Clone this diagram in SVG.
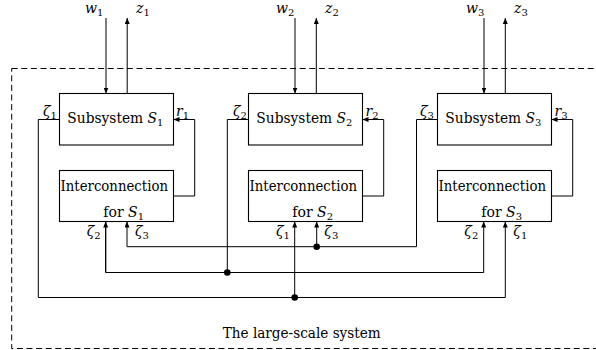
<svg xmlns="http://www.w3.org/2000/svg" width="596" height="350" viewBox="0 0 596 350">
<style>
.box{fill:#fff;stroke:#000;stroke-width:1.1}
.ln{fill:none;stroke:#000;stroke-width:1}
.arr{marker-end:url(#ah)}
.t{font-family:'DejaVu Serif','Liberation Serif',serif;font-size:14px;fill:#000}
.m{font-family:'DejaVu Serif','Liberation Serif',serif;font-size:14px;font-style:italic;fill:#000}
.i{font-style:italic}
.sub{font-style:normal;font-size:10px}
.dot{fill:#000}
</style>
<defs>
<marker id="ah" markerUnits="userSpaceOnUse" viewBox="0 0 6 5" markerWidth="6" markerHeight="5" refX="6" refY="2.5" orient="auto">
<path d="M0,0 L6,2.5 L0,5 Z" fill="#000"/>
</marker>
</defs>
<rect x="11.7" y="68.5" width="600" height="280" fill="none" stroke="#000" stroke-width="1" stroke-dasharray="6 3.6"/>
<text class="t" x="222.7" y="337.5" textLength="158" lengthAdjust="spacingAndGlyphs">The large-scale system</text>

<g id="connectors">
<path class="ln arr" d="M106,18 V93.5"/>
<path class="ln arr" d="M127.2,93.5 V18"/>
<path class="ln arr" d="M295,18 V93.5"/>
<path class="ln arr" d="M316.3,93.5 V18"/>
<path class="ln arr" d="M484,18 V93.5"/>
<path class="ln arr" d="M505.3,93.5 V18"/>
<path class="ln arr" d="M173.5,196 H194.7 V119.5 H173.5"/>
<path class="ln arr" d="M362.5,196 H383.7 V119.5 H362.5"/>
<path class="ln arr" d="M551.5,196 H572.7 V119.5 H551.5"/>
<path class="ln arr" d="M59.5,119.5 H38.3 V297.5 H505.3 V221.5"/>
<path class="ln arr" d="M294.7,297.5 V221.5"/>
<circle class="dot" cx="294.7" cy="297.5" r="3.3"/>
<path class="ln" d="M248.5,119.5 H227.3 V272.5"/>
<path class="ln arr" d="M105.7,221.5 V272.5 H483.7 V221.5"/>
<path class="ln arr" d="M105.7,272.5 V221.5"/>
<circle class="dot" cx="227.3" cy="272.5" r="3.3"/>
<path class="ln arr" d="M437.5,119.5 H416.5 V246.7 H127 V221.5"/>
<path class="ln arr" d="M316.7,246.7 V221.5"/>
<circle class="dot" cx="316.7" cy="246.7" r="3.3"/>
</g>

<g id="labels">
<text class="m" x="85" y="13.3">w<tspan class="sub" dy="3">1</tspan></text>
<text class="m" x="136" y="13.3">z<tspan class="sub" dy="3">1</tspan></text>
<text class="m" x="276" y="13.3">w<tspan class="sub" dy="3">2</tspan></text>
<text class="m" x="325" y="13.3">z<tspan class="sub" dy="3">2</tspan></text>
<text class="m" x="466" y="13.3">w<tspan class="sub" dy="3">3</tspan></text>
<text class="m" x="514" y="13.3">z<tspan class="sub" dy="3">3</tspan></text>
<text class="m" x="43" y="116">ζ<tspan class="sub" dy="3">1</tspan></text>
<text class="m" x="176" y="116">r<tspan class="sub" dy="3">1</tspan></text>
<text class="m" x="233" y="116">ζ<tspan class="sub" dy="3">2</tspan></text>
<text class="m" x="365.5" y="116">r<tspan class="sub" dy="3">2</tspan></text>
<text class="m" x="420" y="116">ζ<tspan class="sub" dy="3">3</tspan></text>
<text class="m" x="554.5" y="116">r<tspan class="sub" dy="3">3</tspan></text>
<text class="m" x="86.7" y="236">ζ<tspan class="sub" dy="3">2</tspan></text>
<text class="m" x="135" y="236">ζ<tspan class="sub" dy="3">3</tspan></text>
<text class="m" x="276" y="236">ζ<tspan class="sub" dy="3">1</tspan></text>
<text class="m" x="324.3" y="236">ζ<tspan class="sub" dy="3">3</tspan></text>
<text class="m" x="464.3" y="236">ζ<tspan class="sub" dy="3">2</tspan></text>
<text class="m" x="513.3" y="236">ζ<tspan class="sub" dy="3">1</tspan></text>
</g>

<g id="subsystem1">
<rect class="box" x="59.5" y="93.5" width="114" height="51.5"/>
<text class="t" x="67.3" y="123.3" textLength="96" lengthAdjust="spacingAndGlyphs">Subsystem <tspan class="i">S</tspan><tspan class="sub" dy="3">1</tspan></text>
</g>
<g id="interconnection1">
<rect class="box" x="59.5" y="170.5" width="114" height="51"/>
<text class="t" x="60.5" y="190.7" textLength="107.5" lengthAdjust="spacingAndGlyphs">Interconnection</text>
<text class="t" x="103.3" y="216.5">for <tspan class="i">S</tspan><tspan class="sub" dy="3">1</tspan></text>
</g>
<g id="subsystem2">
<rect class="box" x="248.5" y="93.5" width="114" height="51.5"/>
<text class="t" x="256.3" y="123.3" textLength="96" lengthAdjust="spacingAndGlyphs">Subsystem <tspan class="i">S</tspan><tspan class="sub" dy="3">2</tspan></text>
</g>
<g id="interconnection2">
<rect class="box" x="248.5" y="170.5" width="114" height="51"/>
<text class="t" x="249.5" y="190.7" textLength="107.5" lengthAdjust="spacingAndGlyphs">Interconnection</text>
<text class="t" x="292.3" y="216.5">for <tspan class="i">S</tspan><tspan class="sub" dy="3">2</tspan></text>
</g>
<g id="subsystem3">
<rect class="box" x="437.5" y="93.5" width="114" height="51.5"/>
<text class="t" x="445.3" y="123.3" textLength="96" lengthAdjust="spacingAndGlyphs">Subsystem <tspan class="i">S</tspan><tspan class="sub" dy="3">3</tspan></text>
</g>
<g id="interconnection3">
<rect class="box" x="437.5" y="170.5" width="114" height="51"/>
<text class="t" x="438.5" y="190.7" textLength="107.5" lengthAdjust="spacingAndGlyphs">Interconnection</text>
<text class="t" x="481.3" y="216.5">for <tspan class="i">S</tspan><tspan class="sub" dy="3">3</tspan></text>
</g>
</svg>
